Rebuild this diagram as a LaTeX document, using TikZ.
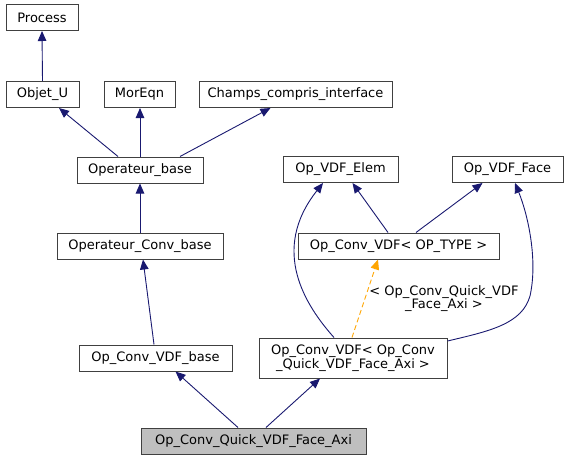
\documentclass[tikz,border=0pt]{standalone}
\usepackage{fontspec}
\setmainfont{DejaVu Sans}
\usetikzlibrary{arrows.meta}
\definecolor{navy}{HTML}{191970}
\definecolor{boxline}{HTML}{404040}
\definecolor{dorange}{HTML}{FFA500}
\tikzset{
  cls/.style={draw=boxline, line width=1pt, fill=white, inner sep=0pt, minimum height=26pt, font=\fontsize{13}{14.5}\selectfont, align=center},
  edge/.style={draw=navy, line width=0.9pt, -{Triangle[length=10pt,width=8.5pt,fill=navy]}},
  tmpl/.style={draw=dorange, line width=0.9pt, dashed, dash pattern=on 5pt off 3pt, -{Triangle[length=10pt,width=8.5pt,fill=dorange]}}
}
\begin{document}
\begin{tikzpicture}[x=1pt,y=-1pt]
\useasboundingbox (0,0) rectangle (569,460);
\node[cls, minimum width=72pt] (process) at (42,17.5) {Process};
\node[cls, minimum width=73pt] (objet) at (42.5,94.5) {Objet\_U};
\node[cls, minimum width=71pt] (moreqn) at (139.5,94.5) {MorEqn};
\node[cls, minimum width=193pt] (champs) at (295.5,94.5) {Champs\_compris\_interface};
\node[cls, minimum width=126pt] (opbase) at (140,170) {Operateur\_base};
\node[cls, minimum width=115pt] (elem) at (340.5,169.5) {Op\_VDF\_Elem};
\node[cls, minimum width=111pt] (face) at (507.5,169.5) {Op\_VDF\_Face};
\node[cls, minimum width=201pt] (convt) at (398.5,246) {Op\_Conv\_VDF< OP\_TYPE >};
\node[cls, minimum width=166pt] (opconv) at (140,246) {Operateur\_Conv\_base};
\node[cls, minimum width=153pt] (vdfbase) at (155.5,358) {Op\_Conv\_VDF\_base};
\node[cls, minimum width=188pt, minimum height=40pt] (convq) at (353,358) {Op\_Conv\_VDF< Op\_Conv\\\_Quick\_VDF\_Face\_Axi >};
\node[cls, minimum width=225pt, fill={rgb,255:red,191;green,191;blue,191}] (quick) at (253.5,441) {Op\_Conv\_Quick\_VDF\_Face\_Axi};

\draw[edge] (objet.north) -- (process.south);
\draw[edge] ([xshift=-22pt]opbase.north) -- ([xshift=16.5pt]objet.south);
\draw[edge] (opbase.north) -- (moreqn.south -| opbase.north);
\draw[edge] ([xshift=40pt]opbase.north) -- ([xshift=-25pt]champs.south);
\draw[edge] (opconv.north -| opbase.south) -- (opbase.south);
\draw[edge] ([xshift=-1.5pt]vdfbase.north) -- ([xshift=3pt]opconv.south);
\draw[edge] ([xshift=-15.5pt]quick.north) -- ([xshift=20pt]vdfbase.south);
\draw[edge] ([xshift=12.5pt]quick.north) -- ([xshift=-33pt]convq.south);
\draw[edge] ([xshift=-10.5pt]convt.north) -- ([xshift=12pt]elem.south);
\draw[edge] ([xshift=17.5pt]convt.north) -- ([xshift=-25pt]face.south);
\draw[edge] ([xshift=-19pt]convq.north) .. controls (305,305) and (270,250) .. ([xshift=-17.5pt]elem.south);
\draw[edge] ([yshift=17pt]convq.east) .. controls (490,331) and (522,324) .. (530,296) .. controls (538,260) and (528,215) .. ([xshift=7.5pt]face.south);
\draw[tmpl] ([xshift=-1pt]convq.north) -- ([xshift=-20.5pt]convt.south)
  node[pos=0.5, right=3pt, inner sep=1pt, align=center, font=\fontsize{13}{13.5}\selectfont] (lbl) {< Op\_Conv\_Quick\_VDF\\\_Face\_Axi >};
\end{tikzpicture}
\end{document}
